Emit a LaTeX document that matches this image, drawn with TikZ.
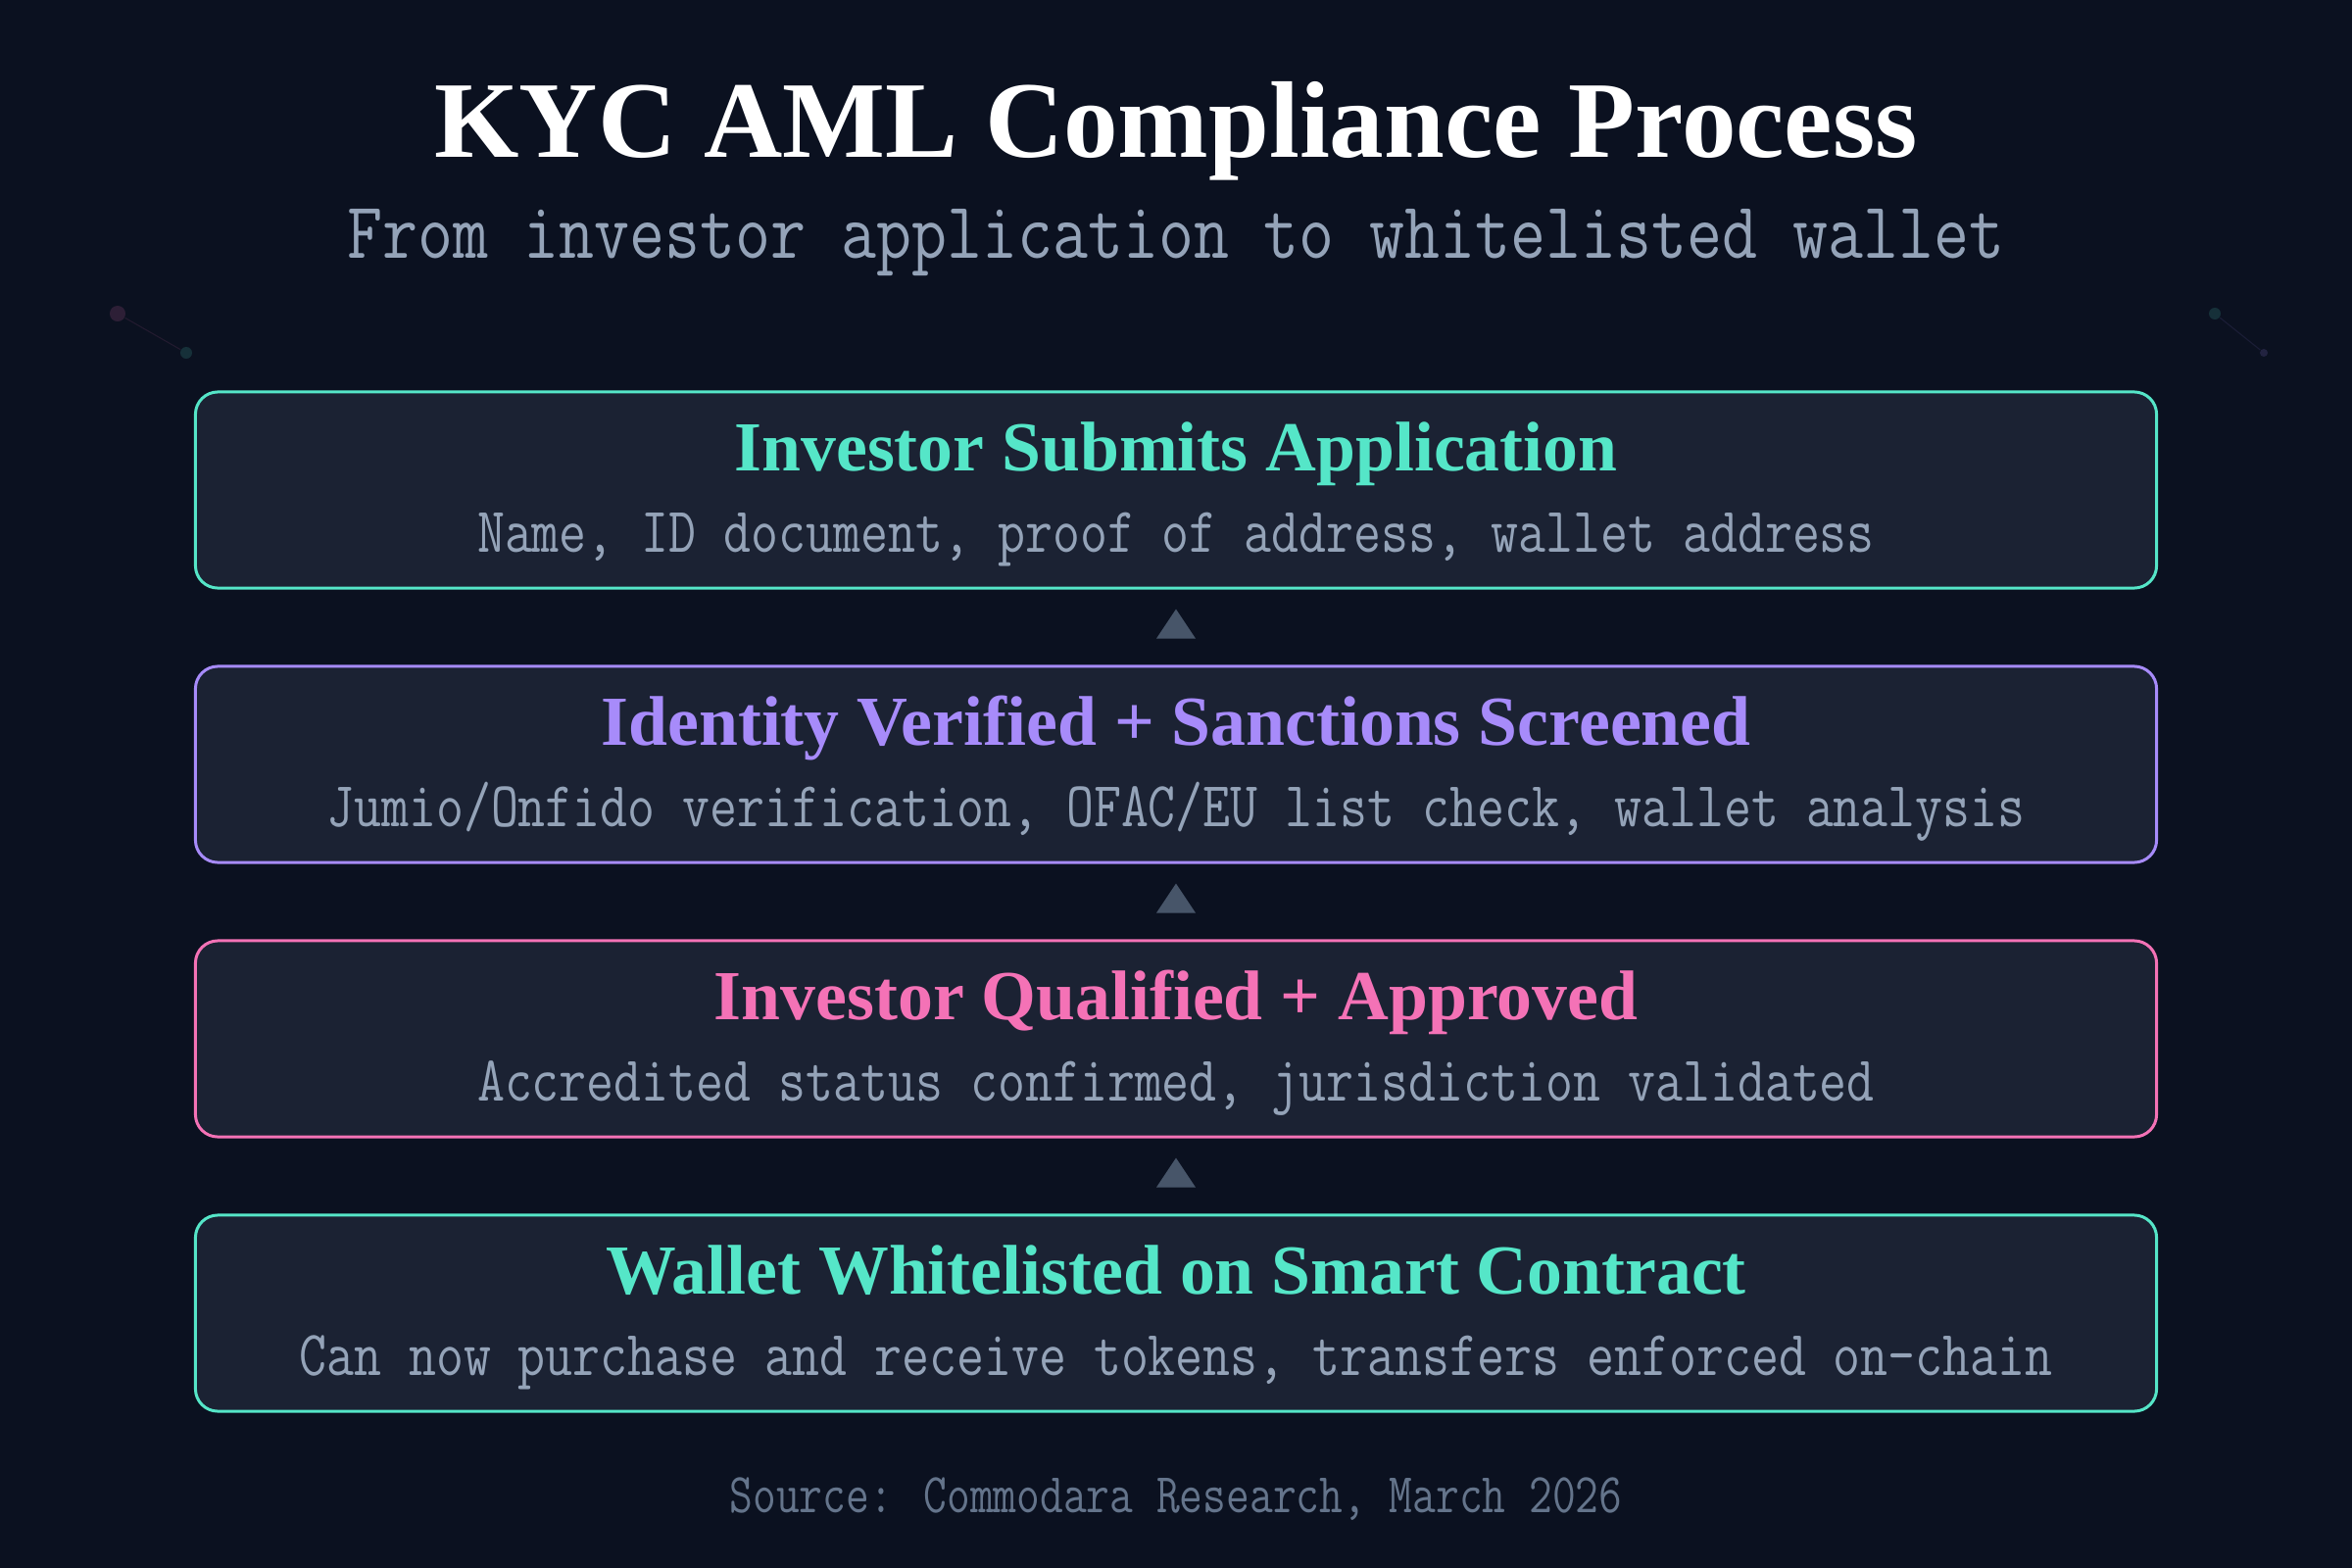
\documentclass[tikz,border=0pt]{standalone}
\usepackage{fontspec}
\setmainfont{Liberation Serif}
\newfontfamily\monof[FakeStretch=0.83]{Latin Modern Mono}
\newfontfamily\monosub[FakeStretch=0.853]{Latin Modern Mono}
\newfontfamily\monofoot[FakeStretch=0.805]{Latin Modern Mono}
\usetikzlibrary{calc}
\definecolor{bgc}{HTML}{0B1120}
\definecolor{boxfill}{HTML}{1B2233}
\definecolor{tealc}{HTML}{55E6C8}
\definecolor{purplec}{HTML}{A78BFA}
\definecolor{pinkc}{HTML}{F472B6}
\definecolor{subc}{HTML}{94A3B8}
\definecolor{footc}{HTML}{64748B}
\definecolor{tric}{HTML}{475569}
\tikzset{
  stagebox/.style={draw=#1, fill=boxfill, line width=0.85pt, rounded corners=6.5pt,
    minimum width=20cm, minimum height=2cm, inner sep=0pt},
  headtxt/.style={anchor=base, inner sep=0pt, text=#1, font=\fontsize{20.4}{24}\selectfont\bfseries},
  subtxt/.style={anchor=base, inner sep=0pt, text=subc, font=\monof\fontsize{18.6}{22}\selectfont},
  arrowtri/.style={fill=tric, draw=none},
  deco/.style={circle, fill=#1, fill opacity=0.15, draw=none, inner sep=0pt},
  decoline/.style={draw=#1, draw opacity=0.1, line width=0.3pt}
}
\begin{document}
\begin{tikzpicture}[x=0.01cm, y=-0.01cm]
\useasboundingbox (0,0) rectangle (2400,1600);
\fill[bgc] (0,0) rectangle (2400,1600);

% decorative dots
\node[deco=pinkc, minimum size=0.16cm] (d1) at (120,320) {};
\node[deco=tealc, minimum size=0.12cm] (d2) at (190,360) {};
\draw[decoline=pinkc] (d1) -- (d2);
\node[deco=tealc, minimum size=0.12cm] (d3) at (2260,320) {};
\node[deco=purplec, minimum size=0.08cm] (d4) at (2310,360) {};
\draw[decoline=purplec] (d3) -- (d4);

% title
\node[anchor=base, inner sep=0pt, text=white, font=\fontsize{31.6}{36}\selectfont\bfseries] (title) at (1200,160) {KYC AML Compliance Process};
\node[anchor=base, inner sep=0pt, text=subc, font=\monosub\fontsize{23.3}{28}\selectfont] (subtitle) at (1200,263) {From investor application to whitelisted wallet};

% boxes
\node[stagebox=tealc] (b1) at (1200,500) {};
\node[stagebox=purplec] (b2) at (1200,780) {};
\node[stagebox=pinkc] (b3) at (1200,1060) {};
\node[stagebox=tealc] (b4) at (1200,1340) {};

\node[headtxt=tealc] (h1) at (1200,480) {Investor Submits Application};
\node[subtxt] (s1) at (1200,563) {Name, ID document, proof of address, wallet address};
\node[headtxt=purplec] (h2) at (1200,760) {Identity Verified + Sanctions Screened};
\node[subtxt] (s2) at (1200,843) {Jumio/Onfido verification, OFAC/EU list check, wallet analysis};
\node[headtxt=pinkc] (h3) at (1200,1040) {Investor Qualified + Approved};
\node[subtxt] (s3) at (1200,1123) {Accredited status confirmed, jurisdiction validated};
\node[headtxt=tealc] (h4) at (1200,1320) {Wallet Whitelisted on Smart Contract};
\node[subtxt] (s4) at (1200,1403) {Can now purchase and receive tokens, transfers enforced on-chain};

% triangles between boxes
\foreach \a in {b1,b2,b3}{
  \fill[arrowtri] ($(\a.south)+(0,20)$) -- ($(\a.south)+(20,50)$) -- ($(\a.south)+(-20,50)$) -- cycle;
}

% footer
\node[anchor=base, inner sep=0pt, text=footc, font=\monofoot\fontsize{16.3}{20}\selectfont] (foot) at (1200,1543) {Source: Commodara Research, March 2026};
\end{tikzpicture}
\end{document}
